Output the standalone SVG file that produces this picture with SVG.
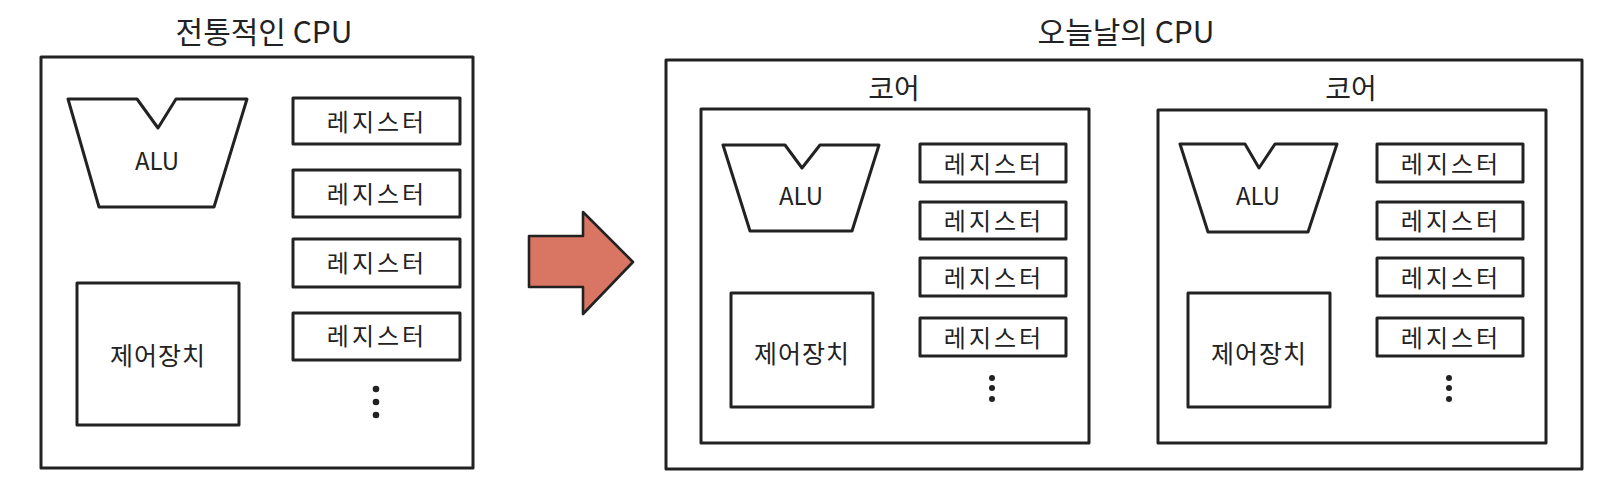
<svg xmlns="http://www.w3.org/2000/svg" width="1610" height="487" viewBox="0 0 1610 487">
<defs>
<style>
.box{fill:#fff;stroke:#222;stroke-width:3;stroke-linejoin:round}
.title{font-family:"Noto Sans CJK KR","Noto Sans",sans-serif;font-size:30px;fill:#222;text-anchor:middle}
.core{font-family:"Noto Sans CJK KR","Noto Sans",sans-serif;font-size:28px;fill:#222;text-anchor:middle}
.lbl{font-family:"Noto Sans CJK KR","Noto Sans",sans-serif;font-size:24px;fill:#222;text-anchor:middle;dominant-baseline:central}
.cu{font-family:"Noto Sans CJK KR","Noto Sans",sans-serif;font-size:25px;fill:#222;text-anchor:middle;dominant-baseline:central;letter-spacing:1px}
.reg{font-family:"Noto Sans CJK KR","Noto Sans",sans-serif;font-size:24px;fill:#222;text-anchor:middle;dominant-baseline:central;letter-spacing:3px}
.dot{fill:#222}
</style>
</defs>
<rect width="1610" height="487" fill="#fff"/>

<g id="traditional-cpu">
<text class="title" x="264" y="43">전통적인 CPU</text>
<rect class="box" x="41" y="57" width="432" height="411"/>
<g id="t-alu">
<path class="box" d="M68,99 L137,99 L158,128 L176,99 L247,99 L214,207 L99,207 Z"/>
<text class="lbl" x="157" y="159">ALU</text>
</g>
<g id="t-cu">
<rect class="box" x="77" y="283" width="162" height="142"/>
<text class="cu" x="158" y="354">제어장치</text>
</g>
<g id="t-reg1"><rect class="box" x="293" y="98" width="167" height="46"/><text class="reg" x="377" y="120">레지스터</text></g>
<g id="t-reg2"><rect class="box" x="293" y="170" width="167" height="47"/><text class="reg" x="377" y="192">레지스터</text></g>
<g id="t-reg3"><rect class="box" x="293" y="239" width="167" height="48"/><text class="reg" x="377" y="261">레지스터</text></g>
<g id="t-reg4"><rect class="box" x="293" y="313" width="167" height="47"/><text class="reg" x="377" y="334">레지스터</text></g>
<g id="t-dots"><circle class="dot" cx="376" cy="389" r="3.3"/><circle class="dot" cx="376" cy="402" r="3.3"/><circle class="dot" cx="376" cy="415" r="3.3"/></g>
</g>

<g id="connectors">
<path d="M529,236 L583,236 L583,212 L633,262 L583,314 L583,287 L529,287 Z" fill="#d87563" stroke="#222" stroke-width="2.6" stroke-linejoin="round"/>
</g>

<g id="modern-cpu">
<text class="title" x="1126" y="43">오늘날의 CPU</text>
<rect class="box" x="666" y="60" width="916" height="409"/>
</g>

<g id="core1">
<text class="core" x="894" y="99">코어</text>
<rect class="box" x="701" y="109" width="388" height="334"/>
<g id="c1-alu">
<path class="box" d="M723,145 L785,145 L802,168 L820,145 L879,145 L852,231 L750,231 Z"/>
<text class="lbl" x="801" y="194">ALU</text>
</g>
<g id="c1-cu">
<rect class="box" x="731" y="293" width="142" height="114"/>
<text class="cu" x="802" y="352">제어장치</text>
</g>
<g id="c1-reg1"><rect class="box" x="920" y="144" width="146" height="38"/><text class="reg" x="994" y="162">레지스터</text></g>
<g id="c1-reg2"><rect class="box" x="920" y="202" width="146" height="37"/><text class="reg" x="994" y="219">레지스터</text></g>
<g id="c1-reg3"><rect class="box" x="920" y="258" width="146" height="38"/><text class="reg" x="994" y="276">레지스터</text></g>
<g id="c1-reg4"><rect class="box" x="920" y="318" width="146" height="38"/><text class="reg" x="994" y="336">레지스터</text></g>
<g id="c1-dots"><circle class="dot" cx="992" cy="378" r="3"/><circle class="dot" cx="992" cy="388" r="3"/><circle class="dot" cx="992" cy="399" r="3"/></g>
</g>

<g id="core2" transform="translate(457,0)">
<text class="core" x="894" y="99">코어</text>
<rect class="box" x="701" y="110" width="388" height="333"/>
<g id="c2-alu">
<path class="box" d="M723,144 L788,144 L802,168 L818,144 L880,144 L851,232 L751,232 Z"/>
<text class="lbl" x="801" y="194">ALU</text>
</g>
<g id="c2-cu">
<rect class="box" x="731" y="293" width="142" height="114"/>
<text class="cu" x="802" y="352">제어장치</text>
</g>
<g id="c2-reg1"><rect class="box" x="920" y="144" width="146" height="38"/><text class="reg" x="994" y="162">레지스터</text></g>
<g id="c2-reg2"><rect class="box" x="920" y="202" width="146" height="37"/><text class="reg" x="994" y="219">레지스터</text></g>
<g id="c2-reg3"><rect class="box" x="920" y="258" width="146" height="38"/><text class="reg" x="994" y="276">레지스터</text></g>
<g id="c2-reg4"><rect class="box" x="920" y="318" width="146" height="38"/><text class="reg" x="994" y="336">레지스터</text></g>
<g id="c2-dots"><circle class="dot" cx="992" cy="378" r="3"/><circle class="dot" cx="992" cy="388" r="3"/><circle class="dot" cx="992" cy="399" r="3"/></g>
</g>
</svg>
